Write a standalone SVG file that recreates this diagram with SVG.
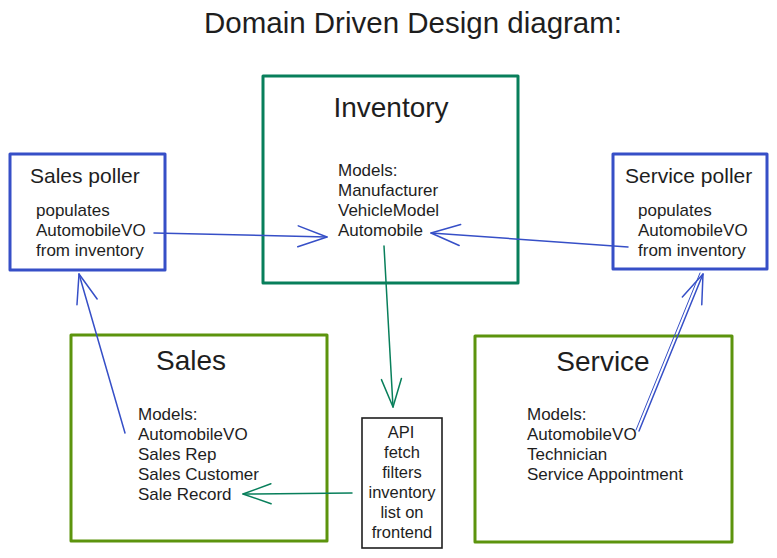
<svg xmlns="http://www.w3.org/2000/svg" width="777" height="558" viewBox="0 0 777 558">
<style>
  text { font-family: "Liberation Sans", "DejaVu Sans", sans-serif; fill: #1e1e1e; }
  .title { font-size: 29.5px; text-anchor: middle; }
  .head { font-size: 28px; text-anchor: middle; }
  .phead { font-size: 21px; }
  .body { font-size: 17px; }
  .api { font-size: 16.5px; text-anchor: middle; }
  .bx { fill: none; stroke-width: 3; stroke-linejoin: round; }
  .blue { stroke: #364fc7; }
  .teal { stroke: #087f5b; }
  .lime { stroke: #5c940d; }
  .dark { stroke: #1e1e1e; stroke-width: 1.6; fill: none; }
  .ln { fill: none; stroke-width: 1.5; stroke-linecap: round; }
  .thin { fill: none; stroke-width: 1; stroke-linecap: round; }
</style>
<defs>
  <marker id="ahBlue" markerUnits="userSpaceOnUse" viewBox="-35 -15 40 30" refX="0" refY="0" markerWidth="40" markerHeight="30" orient="auto" overflow="visible">
    <path d="M-29,-10.5 L0,0 L-29,10.5" fill="none" stroke="#364fc7" stroke-width="1.5" stroke-linecap="round" stroke-linejoin="round"/>
  </marker>
  <marker id="ahTeal" markerUnits="userSpaceOnUse" viewBox="-35 -15 40 30" refX="0" refY="0" markerWidth="40" markerHeight="30" orient="auto" overflow="visible">
    <path d="M-28,-10 L0,0 L-28,10" fill="none" stroke="#087f5b" stroke-width="1.5" stroke-linecap="round" stroke-linejoin="round"/>
  </marker>
</defs>

<text class="title" x="413" y="33">Domain Driven Design diagram:</text>

<g id="inventory">
  <rect class="bx teal" x="263" y="76" width="255" height="207"/>
  <text class="head" x="391" y="117">Inventory</text>
  <text class="body" x="338" y="176">Models:</text>
  <text class="body" x="338" y="196">Manufacturer</text>
  <text class="body" x="338" y="216">VehicleModel</text>
  <text class="body" x="338" y="236">Automobile</text>
</g>

<g id="sales-poller">
  <rect class="bx blue" x="10" y="154" width="155" height="116"/>
  <text class="phead" x="30" y="183">Sales poller</text>
  <text class="body" x="36" y="216">populates</text>
  <text class="body" x="36" y="236">AutomobileVO</text>
  <text class="body" x="36" y="256">from inventory</text>
</g>

<g id="service-poller">
  <rect class="bx blue" x="613" y="154" width="154" height="115"/>
  <text class="phead" x="625" y="183">Service poller</text>
  <text class="body" x="638" y="216">populates</text>
  <text class="body" x="638" y="236">AutomobileVO</text>
  <text class="body" x="638" y="256">from inventory</text>
</g>

<g id="sales">
  <rect class="bx lime" x="71" y="335" width="256" height="206"/>
  <text class="head" x="191" y="370">Sales</text>
  <text class="body" x="138" y="420">Models:</text>
  <text class="body" x="138" y="440">AutomobileVO</text>
  <text class="body" x="138" y="460">Sales Rep</text>
  <text class="body" x="138" y="480">Sales Customer</text>
  <text class="body" x="138" y="500">Sale Record</text>
</g>

<g id="service">
  <rect class="bx lime" x="475" y="336" width="257" height="206"/>
  <text class="head" x="603" y="371">Service</text>
  <text class="body" x="527" y="420">Models:</text>
  <text class="body" x="527" y="440">AutomobileVO</text>
  <text class="body" x="527" y="460">Technician</text>
  <text class="body" x="527" y="480">Service Appointment</text>
</g>

<g id="api">
  <rect class="dark" x="362" y="418" width="80" height="130"/>
  <text class="api" x="401" y="438">API</text>
  <text class="api" x="402" y="458">fetch</text>
  <text class="api" x="402" y="478">filters</text>
  <text class="api" x="402" y="498">inventory</text>
  <text class="api" x="402" y="518">list on</text>
  <text class="api" x="402" y="538">frontend</text>
</g>

<g id="connectors">
  <path class="ln blue" d="M154,233 L327,237" marker-end="url(#ahBlue)"/>
  <path class="ln blue" d="M628,247 L431,233" marker-end="url(#ahBlue)"/>
  <path class="ln teal" d="M384,246 L393,407" marker-end="url(#ahTeal)"/>
  <path class="ln teal" d="M352,493 L243,494" marker-end="url(#ahTeal)"/>
  <path class="ln blue" d="M125,433 L79,274" marker-end="url(#ahBlue)"/>
  <path class="thin blue" d="M636,430 L700,273"/>
  <path class="ln blue" d="M639,431 L703,274" marker-end="url(#ahBlue)"/>
</g>
</svg>
